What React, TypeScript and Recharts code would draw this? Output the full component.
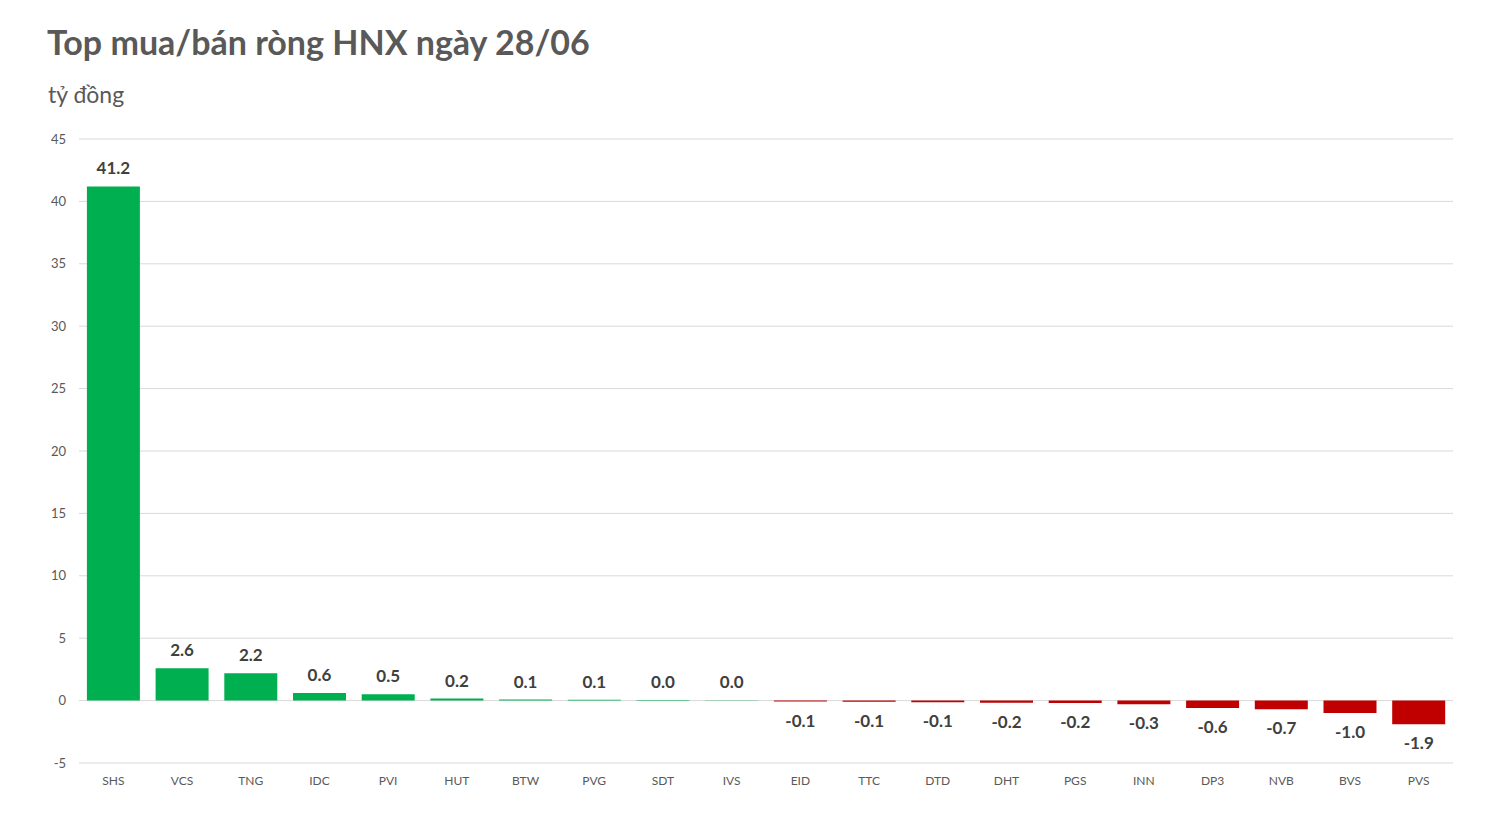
import React from 'react';
import { BarChart, Bar, XAxis, YAxis, CartesianGrid, Cell, LabelList } from 'recharts';

const categories = ['SHS', 'VCS', 'TNG', 'IDC', 'PVI', 'HUT', 'BTW', 'PVG', 'SDT', 'IVS', 'EID', 'TTC', 'DTD', 'DHT', 'PGS', 'INN', 'DP3', 'NVB', 'BVS', 'PVS'];
const values = [41.2, 2.6, 2.2, 0.6, 0.5, 0.16, 0.08, 0.06, 0.04, 0.03, -0.08, -0.1, -0.14, -0.17, -0.2, -0.3, -0.6, -0.7, -1.0, -1.9];
const yTicks = [-5, 0, 5, 10, 15, 20, 25, 30, 35, 40, 45];

const data = categories.map((name, i) => ({ name, value: values[i] }));

const FONT = 'Lato, "Open Sans", sans-serif';

const ValueLabel = (props: any) => {
  const { x, y, width, height, value } = props;
  const top = Math.min(y, y + height);
  const bottom = Math.max(y, y + height);
  const cx = x + width / 2;
  const ty = value >= 0 ? top - 12 : bottom + 25;
  return (
    <text x={cx} y={ty} textAnchor="middle" fill="#404040" fontSize={17} fontWeight={700} fontFamily={FONT}>
      {Number(value).toFixed(1)}
    </text>
  );
};

export default function App() {
  return (
    <div style={{ position: 'relative', width: 1471, height: 820, background: '#fff', fontFamily: FONT }}>
      <div style={{ position: 'absolute', left: 39, top: 17, fontSize: 34, fontWeight: 700, color: '#595959', lineHeight: 1 }}>
        Top mua/bán ròng HNX ngày 28/06
      </div>
      <div style={{ position: 'absolute', left: 40, top: 75, fontSize: 23, color: '#595959', lineHeight: 1 }}>
        tỷ đồng
      </div>
      <BarChart
        width={1471}
        height={820}
        data={data}
        margin={{ top: 131, right: 26, left: 0, bottom: 35 }}
        barCategoryGap="11.5%"
      >
        <CartesianGrid vertical={false} stroke="#d9d9d9" />
        <XAxis
          dataKey="name"
          axisLine={false}
          tickLine={false}
          interval={0}
          tickMargin={7}
          tick={{ fontSize: 12, fill: '#595959', fontFamily: FONT }}
        />
        <YAxis
          domain={[-5, 45]}
          ticks={yTicks}
          axisLine={false}
          tickLine={false}
          width={71}
          tickMargin={7}
          tick={{ fontSize: 13, fill: '#595959', fontFamily: FONT }}
        />
        <Bar dataKey="value" isAnimationActive={false}>
          {data.map((d) => (
            <Cell key={d.name} fill={d.value >= 0 ? '#00B050' : '#C00000'} />
          ))}
          <LabelList dataKey="value" content={<ValueLabel />} />
        </Bar>
      </BarChart>
    </div>
  );
}
